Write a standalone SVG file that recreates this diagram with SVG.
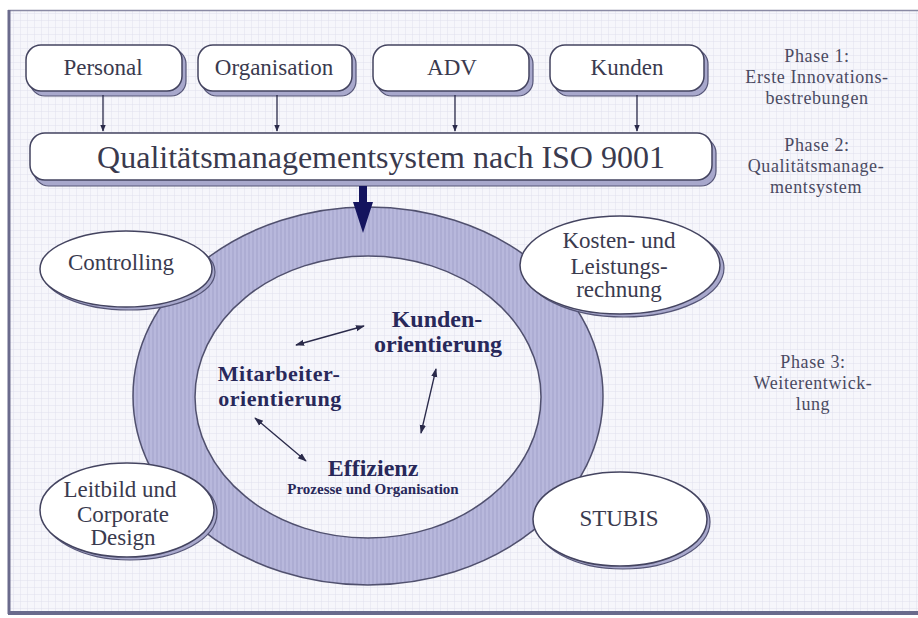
<svg xmlns="http://www.w3.org/2000/svg" width="918" height="618" viewBox="0 0 918 618">
<defs>
<pattern id="grid" width="7" height="7" patternUnits="userSpaceOnUse">
<rect width="7" height="7" fill="#f6f6fb"/>
<path d="M7 0V7M0 7H7" stroke="#e0e0ee" stroke-width="1" fill="none"/>
</pattern>
<pattern id="stripes" width="4" height="10" patternUnits="userSpaceOnUse">
<rect width="4" height="10" fill="#b8b8dc"/>
<path d="M1 0V10" stroke="#a6a6ce" stroke-width="1.2"/>
</pattern>
<marker id="ah" viewBox="0 0 10 10" refX="9" refY="5" markerWidth="7" markerHeight="7" orient="auto-start-reverse" markerUnits="userSpaceOnUse">
<path d="M0 1L10 5L0 9Z" fill="#2a2a4a"/>
</marker>
<marker id="ah2" viewBox="0 0 10 10" refX="9" refY="5" markerWidth="9" markerHeight="9" orient="auto-start-reverse" markerUnits="userSpaceOnUse">
<path d="M0 1.5L10 5L0 8.5Z" fill="#2a2a4a"/>
</marker>
</defs>
<style>
.box{fill:#ffffff;stroke:#444460;stroke-width:1.5}
.shadow{fill:#a8a8cc;stroke:#555577;stroke-width:1.2}
text{font-family:"Liberation Serif","Times New Roman","DejaVu Serif",serif}
.lbl{fill:#3a3a4e;text-anchor:middle;font-size:23px}
.inner{font-weight:bold;fill:#28285a;text-anchor:middle}
.phase{fill:#4a4a62;text-anchor:middle;font-size:18px;letter-spacing:0.6px}
.conn{stroke:#2a2a4a;stroke-width:1.3;fill:none}
</style>
<rect width="918" height="618" fill="#ffffff"/>
<rect x="8" y="10" width="910" height="604" fill="url(#grid)"/>
<line x1="8" y1="10.5" x2="918" y2="10.5" stroke="#8a8aa4" stroke-width="1.5"/>
<line x1="9" y1="10" x2="9" y2="614" stroke="#6a6a8c" stroke-width="3"/>
<line x1="8" y1="613" x2="918" y2="613" stroke="#6a6a8c" stroke-width="4"/>

<g id="ring">
<ellipse cx="368" cy="396" rx="235" ry="189" fill="url(#stripes)" stroke="#50506e" stroke-width="1.5"/>
<ellipse cx="368" cy="397" rx="173" ry="141" fill="url(#grid)" stroke="#50506e" stroke-width="1.5"/>
</g>

<g id="personal">
<rect class="shadow" x="30" y="49" width="156" height="47" rx="15"/>
<rect class="box" x="26" y="45" width="156" height="46" rx="15"/>
<text class="lbl" x="103" y="75" font-family="Liberation Serif, serif">Personal</text>
</g>
<g id="organisation">
<rect class="shadow" x="202" y="49" width="154" height="47" rx="15"/>
<rect class="box" x="198" y="45" width="154" height="46" rx="15"/>
<text class="lbl" x="274" y="75" font-family="Liberation Serif, serif">Organisation</text>
</g>
<g id="adv">
<rect class="shadow" x="377" y="49" width="156" height="47" rx="15"/>
<rect class="box" x="373" y="45" width="156" height="46" rx="15"/>
<text class="lbl" x="452" y="75" font-family="Liberation Serif, serif">ADV</text>
</g>
<g id="kunden">
<rect class="shadow" x="554" y="49" width="154" height="47" rx="15"/>
<rect class="box" x="550" y="45" width="154" height="46" rx="15"/>
<text class="lbl" x="627" y="75" font-family="Liberation Serif, serif">Kunden</text>
</g>
<g id="qms">
<rect class="shadow" x="34" y="138" width="682" height="48" rx="15"/>
<rect class="box" x="30" y="133" width="682" height="47" rx="15"/>
<text class="lbl" x="381" y="168" style="font-size:32px" font-family="Liberation Serif, serif">Qualitätsmanagementsystem nach ISO 9001</text>
</g>

<g id="controlling">
<ellipse class="shadow" cx="129" cy="272" rx="86" ry="38"/>
<ellipse class="box" cx="126" cy="269" rx="86" ry="38"/>
<text class="lbl" x="121" y="270" font-family="Liberation Serif, serif">Controlling</text>
</g>
<g id="kosten">
<ellipse class="shadow" cx="624" cy="268" rx="100" ry="49"/>
<ellipse class="box" cx="620" cy="265" rx="100" ry="49"/>
<text class="lbl" x="619" y="248" font-family="Liberation Serif, serif">Kosten- und</text>
<text class="lbl" x="619" y="274" font-family="Liberation Serif, serif">Leistungs-</text>
<text class="lbl" x="619" y="297" font-family="Liberation Serif, serif">rechnung</text>
</g>
<g id="leitbild">
<ellipse class="shadow" cx="130" cy="513" rx="87" ry="47"/>
<ellipse class="box" cx="127" cy="510" rx="87" ry="47"/>
<text class="lbl" x="120" y="497" font-family="Liberation Serif, serif">Leitbild und</text>
<text class="lbl" x="123" y="522" font-family="Liberation Serif, serif">Corporate</text>
<text class="lbl" x="123" y="545" font-family="Liberation Serif, serif">Design</text>
</g>
<g id="stubis">
<ellipse class="shadow" cx="623" cy="522" rx="87" ry="47"/>
<ellipse class="box" cx="620" cy="519" rx="87" ry="47"/>
<text class="lbl" x="619" y="526" font-family="Liberation Serif, serif">STUBIS</text>
</g>

<g id="kundenorientierung">
<text class="inner" x="437" y="327" font-size="24" font-family="Liberation Serif, serif">Kunden-</text>
<text class="inner" x="438" y="352" font-size="24" font-family="Liberation Serif, serif">orientierung</text>
</g>
<g id="mitarbeiterorientierung">
<text class="inner" x="279" y="381" font-size="22" letter-spacing="0.5" font-family="Liberation Serif, serif">Mitarbeiter-</text>
<text class="inner" x="280" y="406" font-size="22" letter-spacing="0.5" font-family="Liberation Serif, serif">orientierung</text>
</g>
<g id="effizienz">
<text class="inner" x="373" y="476" font-size="24" font-family="Liberation Serif, serif">Effizienz</text>
<text class="inner" x="373" y="494" font-size="15" font-family="Liberation Serif, serif">Prozesse und Organisation</text>
</g>

<g id="phases" font-family="Liberation Serif, serif">
<text class="phase" x="817" y="62">Phase 1:</text>
<text class="phase" x="817" y="83">Erste Innovations-</text>
<text class="phase" x="817" y="104">bestrebungen</text>
<text class="phase" x="817" y="151">Phase 2:</text>
<text class="phase" x="816" y="172">Qualitätsmanage-</text>
<text class="phase" x="816" y="193">mentsystem</text>
<text class="phase" x="813" y="368">Phase 3:</text>
<text class="phase" x="813" y="389">Weiterentwick-</text>
<text class="phase" x="813" y="410">lung</text>
</g>

<g id="connectors">
<line class="conn" x1="103" y1="95" x2="103" y2="131" marker-end="url(#ah)"/>
<line class="conn" x1="277" y1="95" x2="277" y2="131" marker-end="url(#ah)"/>
<line class="conn" x1="455" y1="95" x2="455" y2="131" marker-end="url(#ah)"/>
<line class="conn" x1="637" y1="95" x2="637" y2="131" marker-end="url(#ah)"/>
<path d="M359 186H367V202H373L363 233L353 202H359Z" fill="#14145e"/>
<line class="conn" x1="296" y1="345" x2="364" y2="326" marker-start="url(#ah2)" marker-end="url(#ah2)"/>
<line class="conn" x1="436" y1="369" x2="421" y2="433" marker-start="url(#ah2)" marker-end="url(#ah2)"/>
<line class="conn" x1="255" y1="418" x2="306" y2="461" marker-start="url(#ah2)" marker-end="url(#ah2)"/>
</g>
</svg>
